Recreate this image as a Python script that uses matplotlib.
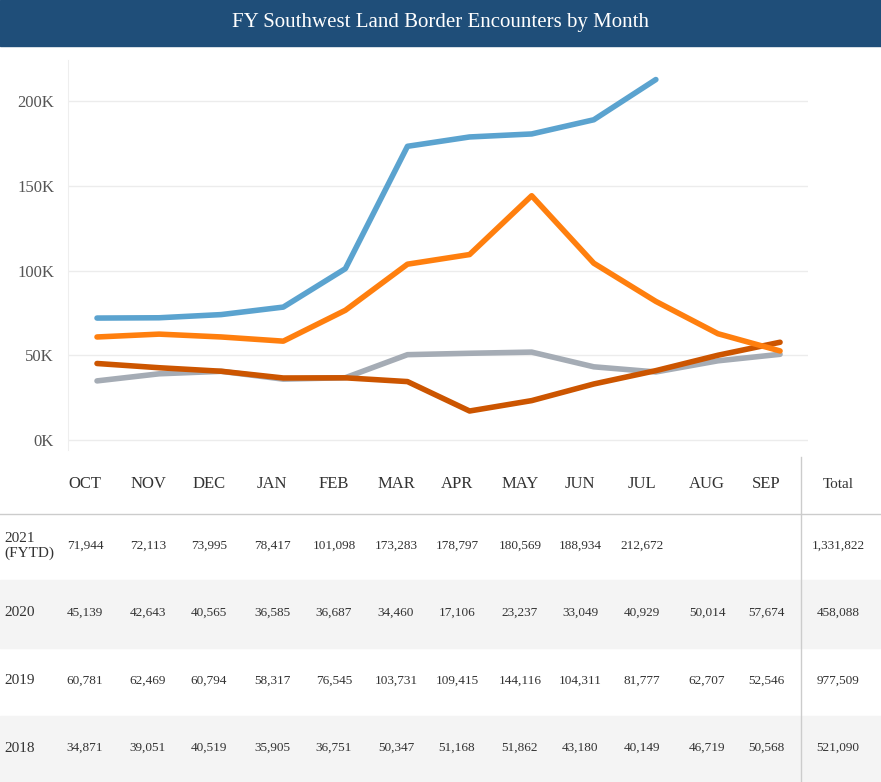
import matplotlib
matplotlib.use("Agg")
import matplotlib.pyplot as plt
from matplotlib.patches import Rectangle

months = ["OCT","NOV","DEC","JAN","FEB","MAR","APR","MAY","JUN","JUL","AUG","SEP"]
fy2021 = [71944,72113,73995,78417,101098,173283,178797,180569,188934,212672]
fy2020 = [45139,42643,40565,36585,36687,34460,17106,23237,33049,40929,50014,57674]
fy2019 = [60781,62469,60794,58317,76545,103731,109415,144116,104311,81777,62707,52546]
fy2018 = [34871,39051,40519,35905,36751,50347,51168,51862,43180,40149,46719,50568]
row_labels = ["2021\n(FYTD)","2020","2019","2018"]
totals = ["1,331,822","458,088","977,509","521,090"]
colors = {"2021":"#5ba3cf","2019":"#ff7f0e","2020":"#cc5500","2018":"#a5acb5"}

W, H = 881, 782
plt.rcParams['font.family'] = ['Liberation Serif', 'DejaVu Serif']
fig = plt.figure(figsize=(W/100, H/100), dpi=100)

def fx(px): return px / W
def fy(py): return 1 - py / H

# title bar
fig.patches.append(Rectangle((0, fy(46)), 1, 46/H, transform=fig.transFigure, color="#1f4e79", zorder=0))
fig.text(0.5, fy(23), "FY Southwest Land Border Encounters by Month", ha="center", va="center",
         color="white", fontsize=15)

ax = fig.add_axes([fx(68), fy(450), fx(808)-fx(68), (450-60)/H])
x = list(range(12))
ax.plot(x, fy2018, color=colors["2018"], lw=4, solid_capstyle="round")
ax.plot(x, fy2020, color=colors["2020"], lw=4, solid_capstyle="round")
ax.plot(x, fy2019, color=colors["2019"], lw=4, solid_capstyle="round")
ax.plot(x[:len(fy2021)], fy2021, color=colors["2021"], lw=4, solid_capstyle="round")
ax.set_xlim(-0.467, 11.45)
ax.set_ylim(-5900, 224200)
ax.set_yticks([0, 50000, 100000, 150000, 200000])
ax.set_yticklabels(["0K","50K","100K","150K","200K"])
ax.tick_params(axis="y", length=0, labelsize=12, labelcolor="#555555", pad=10)
ax.set_xticks([])
ax.grid(axis="y", color="#ececec", lw=1)
ax.set_axisbelow(True)
for s in ["top","right","bottom"]:
    ax.spines[s].set_visible(False)
ax.spines["left"].set_color("#eeeeee")

# table
col_x = [85,148,209,272,334,396,457,520,580,642,707,766]
total_x = 838
for m, cx in zip(months, col_x):
    fig.text(fx(cx), fy(484), m, ha="center", va="center", fontsize=12, color="#333333")
fig.text(fx(total_x), fy(484), "Total", ha="center", va="center", fontsize=11, color="#333333")
fig.lines.append(plt.Line2D([0, 1], [fy(514), fy(514)], transform=fig.transFigure, color="#cccccc", lw=1))
fig.lines.append(plt.Line2D([fx(801), fx(801)], [fy(457), 0], transform=fig.transFigure, color="#cccccc", lw=1))

row_y = [546, 613, 681, 748]
bands = [(580, 648), (716, 782)]
for a, b in bands:
    fig.patches.append(Rectangle((0, fy(b)), fx(800), (b-a)/H, transform=fig.transFigure,
                                 color="#f4f4f4", zorder=0))
    fig.patches.append(Rectangle((fx(802), fy(b)), 1-fx(802), (b-a)/H, transform=fig.transFigure,
                                 color="#f4f4f4", zorder=0))
data = [fy2021, fy2020, fy2019, fy2018]
for lab, vals, tot, ry in zip(row_labels, data, totals, row_y):
    fig.text(fx(4), fy(ry), lab, ha="left", va="center", fontsize=11, color="#333333", linespacing=1.1)
    for v, cx in zip(vals, col_x):
        fig.text(fx(cx), fy(ry), f"{v:,}", ha="center", va="center", fontsize=9.5, color="#333333")
    fig.text(fx(total_x), fy(ry), tot, ha="center", va="center", fontsize=9.5, color="#333333")

fig.savefig("out.png", dpi=100)
